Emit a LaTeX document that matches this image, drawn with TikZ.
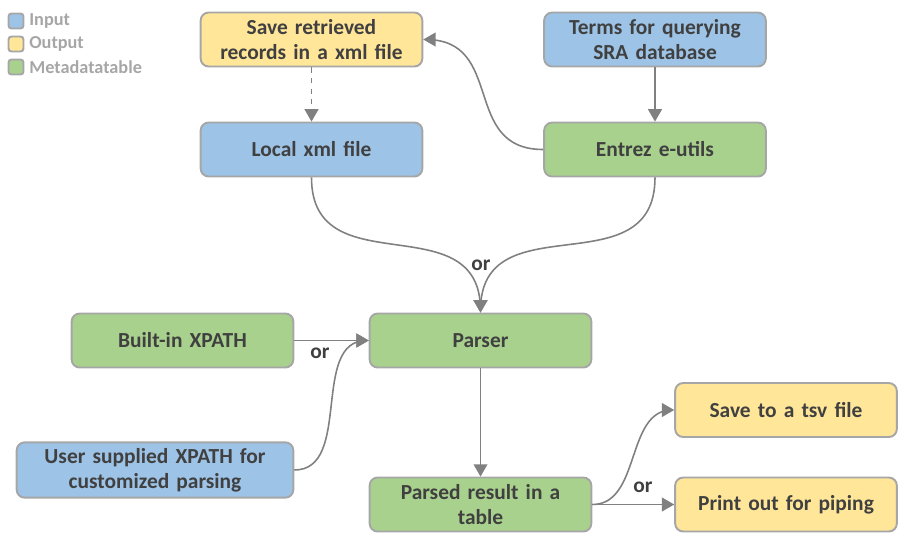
\documentclass[tikz,border=0pt]{standalone}
\usepackage{fontspec}
\setmainfont{Carlito}
\usetikzlibrary{arrows}
\definecolor{inblue}{HTML}{9DC3E6}
\definecolor{outyellow}{HTML}{FFE699}
\definecolor{metagreen}{HTML}{A9D18E}
\definecolor{edgegray}{HTML}{A6A6A6}
\definecolor{linegray}{HTML}{808080}
\definecolor{textgray}{HTML}{404040}
\begin{document}
\begin{tikzpicture}[x=0.02cm,y=-0.02cm,
        norm/.style={draw=edgegray,rectangle,rounded corners=1.6mm,line width=1.1pt,minimum width=4.36cm,minimum height=1.08cm,text width=4.2cm,align=center,font=\fontsize{12.2}{14.2}\selectfont\bfseries,text=textgray},
        inp/.style={norm,fill=inblue},
        outp/.style={norm,fill=outyellow},
        meta/.style={norm,fill=metagreen},
        conn/.style={draw=linegray,line width=0.9pt,-triangle 60},
        ortext/.style={font=\fontsize{12.2}{14.2}\selectfont\bfseries,text=textgray,inner sep=1pt},
        legbox/.style={draw=edgegray,rectangle,rounded corners=0.6mm,line width=1.1pt,minimum size=0.3cm,inner sep=0pt},
        legtext/.style={anchor=west,font=\fontsize{10.4}{12}\selectfont\bfseries,text=edgegray,inner sep=0pt}
      ]
      \useasboundingbox (0,0) rectangle (906,542);
      % Legend.
      \node[legbox,fill=inblue] (legin) at (16,21) {};
      \node[legtext] (legintxt) at (29,21) {Input};
      \node[legbox,fill=outyellow] (legout) at (16,44) {};
      \node[legtext] (legouttxt) at (29,44) {Output};
      \node[legbox,fill=metagreen] (legmeta) at (16,67) {};
      \node[legtext] (legmetatxt) at (29,67) {Metadatatable};
      % Boxes.
      \node[outp] (save) at (311.5,39.5) {Save retrieved\\records in a xml file};
      \node[inp] (terms) at (655,39.5) {Terms for querying\\SRA database};
      \node[inp] (local) at (311.5,149.5) {Local xml file};
      \node[meta] (entrez) at (655,149.5) {Entrez e-utils};
      \node[meta] (builtin) at (182.5,340.5) {Built-in XPATH};
      \node[meta] (parser) at (480.5,340.5) {Parser};
      \node[inp,minimum width=5.46cm,text width=5.3cm] (user) at (155,470) {User supplied XPATH for\\customized parsing};
      \node[meta] (parsed) at (480.5,504.5) {Parsed result in a\\table};
      \node[outp] (tsv) at (786,410) {Save to a tsv file};
      \node[outp] (print) at (786,504.5) {Print out for piping};
      % Labels.
      \node[ortext] (orfetch) at (481,265) {or};
      \node[ortext] (orxpath) at (320,353) {or};
      \node[ortext] (orout) at (643,487) {or};
      % Connections.
      \draw[conn,dashed] (save) -- (local);
      \draw[conn] (terms) -- (entrez);
      \draw[conn] (entrez.west) to[out=180,in=0,looseness=1.3] (save.east);
      \draw[conn] (local.south) to[out=-90,in=90,looseness=1.3] (parser.north);
      \draw[conn] (entrez.south) to[out=-90,in=90,looseness=1.3] (parser.north);
      \draw[conn] (builtin) -- (parser);
      \draw[conn] (user.east) to[out=0,in=180] (parser.west);
      \draw[conn] (parser) -- (parsed);
      \draw[conn] (parsed.east) to[out=0,in=180] (tsv.west);
      \draw[conn] (parsed) -- (print);
    \end{tikzpicture}
\end{document}
